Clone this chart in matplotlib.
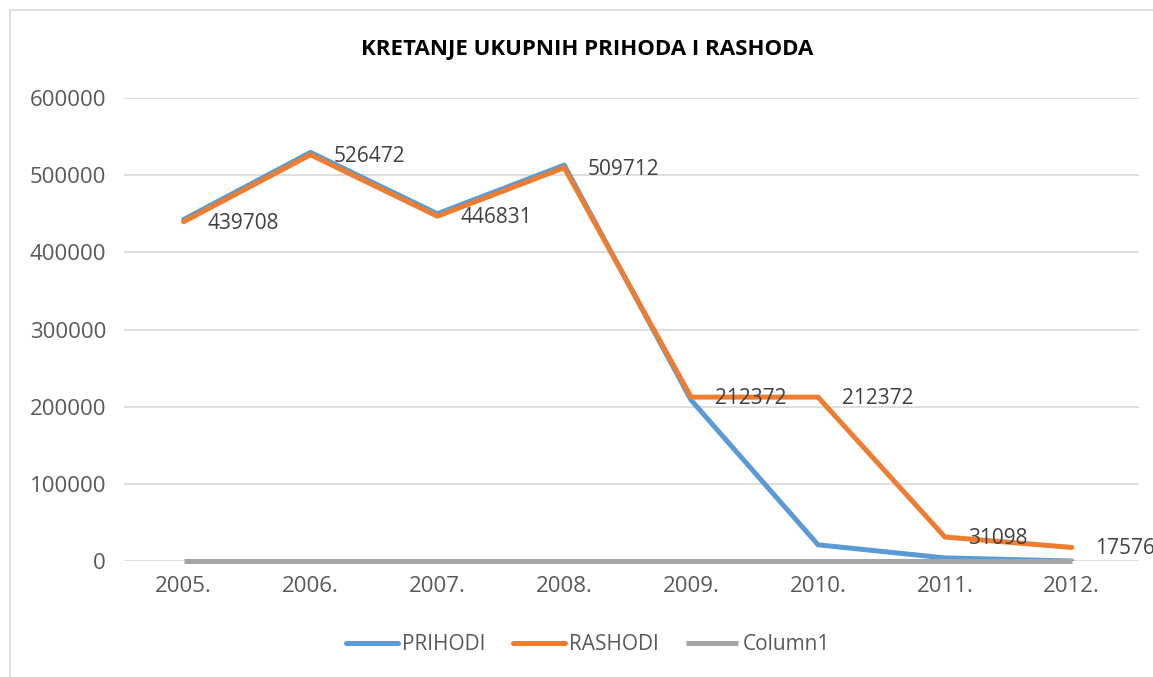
import matplotlib.pyplot as plt
from matplotlib.patches import Rectangle
import numpy as np

years = ['2005.', '2006.', '2007.', '2008.', '2009.', '2010.', '2011.', '2012.']
prihodi = [442500, 529500, 450000, 513000, 208500, 21000, 4000, 0]
rashodi = [439708, 526472, 446831, 509712, 212372, 212372, 31098, 17576]
column1 = [0, 0, 0, 0, 0, 0, 0, 0]

plt.rcParams['font.family'] = ['Open Sans', 'DejaVu Sans']

fig = plt.figure(figsize=(11.53, 6.77), dpi=100)
# chart border
fig.patches.append(Rectangle((10 / 1153, -0.1), 1.2, 1 - 10 / 677 + 0.1, transform=fig.transFigure,
                             fill=False, edgecolor='#D9D9D9', linewidth=1.2))
ax = fig.add_axes([124 / 1153, 1 - 561 / 677, (1139 - 124) / 1153, (561 - 98) / 677])

x = np.arange(len(years))
ax.plot(x, prihodi, color='#5B9BD5', lw=3.6, label='PRIHODI', solid_capstyle='round', zorder=3)
ax.plot(x, rashodi, color='#ED7D31', lw=3.6, label='RASHODI', solid_capstyle='round', zorder=4)
ax.plot(x, column1, color='#A5A5A5', lw=3.6, label='Column1', solid_capstyle='butt', zorder=5, clip_on=False)

for xi, v in zip(x, rashodi):
    ax.annotate(str(v), (xi, v), xytext=(17, -1), textcoords='offset points',
                ha='left', va='center', fontsize=15, color='#404040', zorder=6)

ax.set_xlim(-0.47, 7.53)
ax.set_ylim(0, 600000)
ax.set_yticks(range(0, 600001, 100000))
ax.set_xticks(x)
ax.set_xticklabels(years)
ax.tick_params(length=0, labelsize=16, labelcolor='#595959')
ax.tick_params(axis='x', pad=11)
ax.tick_params(axis='y', pad=13)
ax.grid(axis='y', color='#D9D9D9', lw=1.2)
ax.set_axisbelow(True)
for s in ax.spines.values():
    s.set_visible(False)

fig.text(587 / 1153, 1 - 50 / 677, 'KRETANJE UKUPNIH PRIHODA I RASHODA', ha='center', va='center',
         fontsize=16, fontweight='bold', color='black')

fig.legend(loc='center', bbox_to_anchor=(588 / 1153, 1 - 645 / 677), ncol=3, frameon=False,
           fontsize=15, handlelength=2.5, handletextpad=0.2, columnspacing=1.3, labelcolor='#595959')

fig.savefig('out.png', dpi=100)
